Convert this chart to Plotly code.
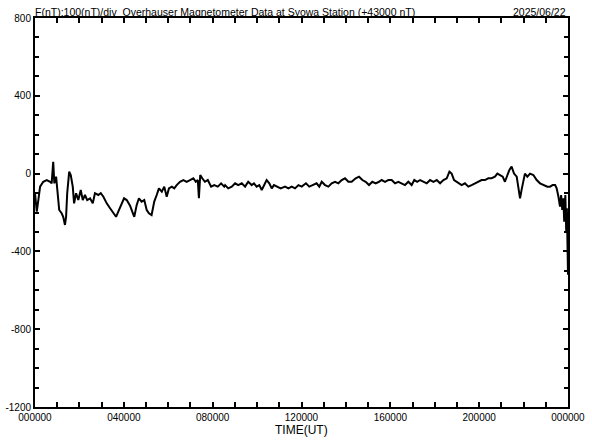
import plotly.graph_objects as go

# time in hours (UT) and total force deviation from 43000 nT
hours = [
    0.00, 0.08, 0.15, 0.23, 0.37, 0.53, 0.68, 0.75, 0.82, 0.87, 0.95, 1.00, 1.09, 1.20, 1.27, 1.35, 1.40, 1.45,
    1.54, 1.61, 1.70, 1.76, 1.85, 1.95, 2.06, 2.15, 2.25, 2.35, 2.48, 2.60, 2.70, 2.85, 2.96, 3.08, 3.23, 3.38,
    3.53, 3.65, 3.75, 3.90, 4.01, 4.13, 4.28, 4.38, 4.47, 4.58, 4.68, 4.80, 4.92, 5.03, 5.13, 5.25, 5.37, 5.48,
    5.58, 5.71, 5.82, 5.93, 6.03, 6.16, 6.27, 6.38, 6.53, 6.68, 6.83, 6.98, 7.13, 7.24, 7.33, 7.38, 7.44, 7.53,
    7.65, 7.78, 7.93, 8.07, 8.23, 8.38, 8.52, 8.56, 8.70, 8.86, 9.01, 9.15, 9.31, 9.46, 9.60, 9.76, 9.86, 9.98,
    10.10, 10.21, 10.31, 10.43, 10.55, 10.66, 10.76, 10.91, 11.06, 11.26, 11.41, 11.56, 11.71, 11.86, 12.01,
    12.20, 12.35, 12.50, 12.68, 12.80, 12.91, 13.06, 13.21, 13.36, 13.51, 13.66, 13.81, 13.96, 14.11, 14.26,
    14.44, 14.59, 14.74, 14.89, 15.04, 15.19, 15.34, 15.49, 15.61, 15.76, 15.91, 16.06, 16.21, 16.36, 16.51,
    16.66, 16.81, 16.96, 17.08, 17.21, 17.34, 17.48, 17.64, 17.79, 17.94, 18.09, 18.24, 18.39, 18.54, 18.66,
    18.76, 18.87, 18.99, 19.11, 19.21, 19.36, 19.51, 19.66, 19.81, 19.96, 20.11, 20.26, 20.41, 20.56, 20.71,
    20.82, 20.94, 21.06, 21.16, 21.27, 21.36, 21.46, 21.57, 21.69, 21.76, 21.84, 21.91, 21.99, 22.06, 22.17,
    22.29, 22.44, 22.59, 22.74, 22.92, 23.07, 23.19, 23.31, 23.42, 23.49, 23.57, 23.64, 23.69, 23.74, 23.79,
    23.83, 23.88, 23.92, 23.95, 23.98, 24.00,
]
f_nT = [
    -100, -196, -136, -67, -42, -33, -42, -50, 61, -50, -16, -84, -187, -204, -222, -264, -222, -101,
    10, -7, -67, -153, -101, -136, -84, -136, -110, -136, -127, -153, -101, -110, -101, -119, -153, -178,
    -204, -222, -196, -153, -127, -136, -165, -196, -222, -161, -127, -144, -136, -187, -204, -213, -144, -110,
    -76, -93, -67, -119, -76, -67, -76, -59, -42, -33, -42, -33, -24, -42, -33, -127, -7, -24,
    -42, -33, -67, -59, -67, -50, -67, -59, -76, -67, -50, -59, -50, -67, -42, -59, -50, -67,
    -59, -84, -59, -33, -50, -76, -59, -67, -76, -67, -76, -67, -76, -59, -67,
    -50, -67, -59, -50, -67, -42, -59, -67, -50, -42, -50, -33, -24, -42, -42,
    -24, -16, -33, -42, -59, -42, -50, -42, -33, -42, -33, -33, -50, -42, -50,
    -59, -42, -59, -33, -42, -33, -42, -50, -33, -42, -33, -50, -33, -24, 10,
    0, -33, -42, -50, -59, -50, -67, -59, -50, -42, -33, -33, -24, -24, -16,
    0, -7, -16, -42, -7, 19, 36, 0, -16, -59, -127, -84, -33, 0, -16,
    0, -7, -33, -50, -59, -67, -67, -59, -59, -76, -119, -170, -110, -187, -127,
    -247, -110, -299, -178, -419, -520,
]

x_tick_vals = [0, 4, 8, 12, 16, 20, 24]
x_tick_text = ["000000", "040000", "080000", "120000", "160000", "200000", "000000"]
y_tick_vals = [800, 400, 0, -400, -800, -1200]
y_tick_text = ["800", "400", "0", "-400", "-800", "-1200"]
title_left = "F(nT):100(nT)/div  Overhauser Magnetometer Data at Syowa Station (+43000 nT)"
title_right = "2025/06/22"
x_title = "TIME(UT)"

font = "Liberation Sans, Arial, sans-serif"

fig = go.Figure(
    go.Scatter(x=hours, y=f_nT, mode="lines", line=dict(color="black", width=2), hoverinfo="skip")
)

fig.update_layout(
    width=592, height=440,
    margin=dict(l=35, r=24, t=18, b=33, autoexpand=False),
    paper_bgcolor="white", plot_bgcolor="white",
    showlegend=False,
    font=dict(family=font, size=10, color="black"),
    annotations=[
        dict(text=title_left, x=0, y=1, xref="paper", yref="paper", xanchor="left", yanchor="bottom",
             showarrow=False, font=dict(size=10.5), yshift=-2, xshift=-2),
        dict(text=title_right, x=1, y=1, xref="paper", yref="paper", xanchor="right", yanchor="bottom",
             showarrow=False, font=dict(size=10.5), yshift=-2),
        dict(text=x_title, x=0.5, y=0, xref="paper", yref="paper", xanchor="center", yanchor="top",
             showarrow=False, font=dict(size=12), yshift=-14),
    ],
)

fig.update_xaxes(
    range=[0, 24], tickvals=x_tick_vals, ticktext=x_tick_text,
    ticks="inside", ticklen=5, tickwidth=2, tickcolor="black",
    minor=dict(dtick=1, tick0=0, ticks="inside", ticklen=5, tickwidth=2, tickcolor="black", showgrid=False),
    showline=True, linecolor="black", linewidth=2, mirror="allticks",
    showgrid=False, zeroline=False, automargin=False,
    tickfont=dict(size=10),
)
fig.update_yaxes(
    range=[-1200, 800], tickvals=y_tick_vals, ticktext=y_tick_text,
    ticks="inside", ticklen=5, tickwidth=2, tickcolor="black",
    minor=dict(dtick=100, tick0=0, ticks="inside", ticklen=4, tickwidth=2, tickcolor="black", showgrid=False),
    showline=True, linecolor="black", linewidth=2, mirror="allticks",
    showgrid=False, zeroline=False, automargin=False,
    tickfont=dict(size=10), ticklabelstandoff=0,
)

fig.write_html("out.html", config={"displayModeBar": False},
               post_script="document.body.style.margin='0';")
